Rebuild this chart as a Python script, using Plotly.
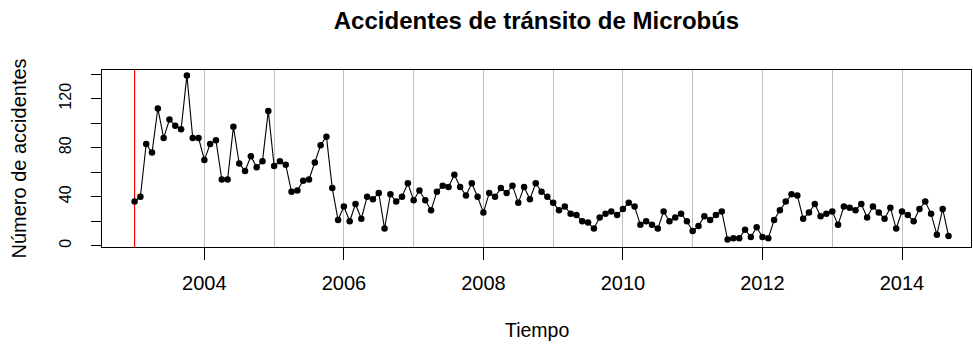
import numpy as np
import plotly.graph_objects as go

# Monthly count of traffic accidents involving microbuses, Jan 2003 - Sep 2014
start_year = 2003
accidents = [
    36, 40, 83, 76, 112, 88, 103, 98, 95, 139, 88, 88,    # 2003
    70, 83, 86, 54, 54, 97, 67, 61, 73, 64, 69, 110,      # 2004
    65, 69, 66, 44, 45, 53, 54, 68, 82, 89, 47, 21,       # 2005
    32, 20, 34, 22, 40, 38, 43, 14, 42, 36, 40, 51,       # 2006
    37, 45, 37, 29, 44, 49, 48, 58, 48, 41, 51, 40,       # 2007
    27, 43, 40, 47, 43, 49, 35, 48, 38, 51, 44, 40,       # 2008
    35, 29, 32, 26, 25, 20, 19, 14, 23, 26, 28, 25,       # 2009
    30, 35, 32, 17, 20, 17, 14, 28, 20, 23, 26, 20,       # 2010
    12, 16, 24, 21, 25, 28, 5, 6, 6, 13, 7, 15,           # 2011
    7, 6, 21, 29, 36, 42, 41, 22, 27, 34, 24, 26,         # 2012
    28, 17, 32, 31, 29, 34, 23, 32, 27, 22, 31, 14,       # 2013
    28, 25, 20, 30, 36, 26, 9, 30, 8,                     # 2014
]

x_tick_years = [2004, 2006, 2008, 2010, 2012, 2014]
grid_years = list(range(2004, 2015))
y_tick_values = [0, 20, 40, 60, 80, 100, 120, 140]
y_tick_labels = ["0", "", "40", "", "80", "", "120", ""]
marker_year = 2003

# time index of the series (year + month fraction)
t = start_year + np.arange(len(accidents)) / 12.0

FONT = "Liberation Sans, Arial, sans-serif"

fig = go.Figure()
fig.add_trace(go.Scatter(
    x=t, y=accidents, mode="lines+markers",
    line=dict(color="black", width=1.1),
    marker=dict(color="black", size=6.5),
    showlegend=False, hoverinfo="x+y",
))

# red reference line at the start of the series, drawn under the data
fig.add_shape(type="line", xref="x", yref="paper",
              x0=marker_year, x1=marker_year, y0=0, y1=1,
              line=dict(color="red", width=1.2), layer="below")

fig.update_layout(
    width=973, height=345,
    margin=dict(l=102, r=2, t=70, b=98),
    paper_bgcolor="white", plot_bgcolor="white",
    font=dict(family=FONT, color="black", size=16),
    title=dict(text="<b>Accidentes de tránsito de Microbús</b>",
               x=0.5, xref="paper", xanchor="center",
               y=1 - 21 / 345, yref="container", yanchor="middle",
               font=dict(size=24, family=FONT, color="black")),
    xaxis=dict(
        range=[2002.533, 2014.989],
        tickmode="array", tickvals=x_tick_years,
        ticktext=[str(v) for v in x_tick_years],
        ticks="outside", ticklen=12, tickcolor="black", tickwidth=1,
        tickfont=dict(size=20, color="black"),
        ticklabelstandoff=6,
        showgrid=True, gridcolor="#BEBEBE", gridwidth=1,
        minor=dict(tickvals=grid_years, showgrid=True,
                   gridcolor="#BEBEBE", gridwidth=1, ticks=""),
        showline=True, linecolor="black", linewidth=1, mirror=True,
        zeroline=False,
    ),
    yaxis=dict(
        range=[-1.06, 143.4],
        tickmode="array", tickvals=y_tick_values, ticktext=y_tick_labels,
        ticks="outside", ticklen=10, tickcolor="black", tickwidth=1,
        tickangle=-90, tickfont=dict(size=16, color="black"),
        ticklabelstandoff=14,
        showgrid=False, zeroline=False,
        showline=True, linecolor="black", linewidth=1, mirror=True,
    ),
    annotations=[
        dict(text="Tiempo", xref="paper", yref="paper",
             x=0.5, y=(247 - 330) / 177, xanchor="center", yanchor="middle",
             showarrow=False, font=dict(size=19.5, family=FONT, color="black")),
        dict(text="Número de accidentes", xref="paper", yref="paper",
             x=(18 - 102) / 869, y=0.5, xanchor="center", yanchor="middle",
             textangle=-90, showarrow=False,
             font=dict(size=20, family=FONT, color="black")),
    ],
)

fig.write_html("out.html")
